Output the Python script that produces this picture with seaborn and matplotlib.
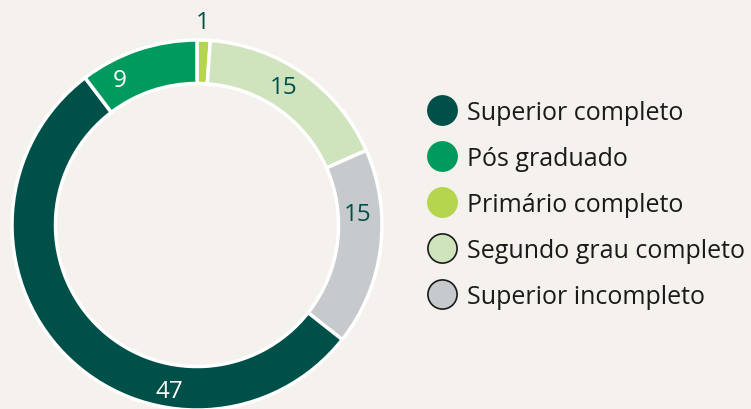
import numpy as np
import matplotlib
matplotlib.use("Agg")
import matplotlib.pyplot as plt
from matplotlib.lines import Line2D
import seaborn as sns

# ================================
# Data
# ================================
categories = ["Primário completo", "Segundo grau completo", "Superior incompleto",
              "Superior completo", "Pós graduado"]
values = [1, 15, 15, 47, 9]
legend_order = ["Superior completo", "Pós graduado", "Primário completo",
                "Segundo grau completo", "Superior incompleto"]

# ================================
# Style
# ================================
bg = "#f5f1ed"
dark = "#00504a"
colors = {
    "Superior completo": "#00504a",
    "Pós graduado": "#009a5f",
    "Primário completo": "#b4d54c",
    "Segundo grau completo": "#cfe4bd",
    "Superior incompleto": "#c6cacd",
}
label_colors = [dark, dark, dark, "white", "white"]
# label angle (deg, clockwise from top) and radius for each wedge
label_angle = [1.7, 32, 86, 189.6, 332]
label_radius = [1.10, 0.88, 0.87, 0.91, 0.89]

sns.set_theme(style="white")
plt.rcParams["font.family"] = ["Open Sans", "DejaVu Sans"]

fig = plt.figure(figsize=(7.51, 4.10), dpi=100, facecolor=bg)
ax = fig.add_axes([(197 - 185) / 751, (184 - 185) / 410, 370 / 751, 370 / 410])
ax.set_facecolor(bg)

ax.pie(values,
       colors=[colors[c] for c in categories],
       startangle=90,
       counterclock=False,
       radius=1.0,
       wedgeprops=dict(width=0.235, edgecolor="white", linewidth=2.5))
ax.set_xlim(-1, 1)
ax.set_ylim(-1, 1)
ax.set_aspect("equal")
ax.axis("off")

for v, a, r, c in zip(values, label_angle, label_radius, label_colors):
    t = np.deg2rad(a)
    ax.text(r * np.sin(t), r * np.cos(t), str(v), ha="center", va="center",
            fontsize=17.5, color=c, clip_on=False)

# ================================
# Legend
# ================================
handles = []
for name in legend_order:
    edge = "#1a1a1a" if name in ("Segundo grau completo", "Superior incompleto") else colors[name]
    handles.append(Line2D([0], [0], marker="o", linestyle="none", markersize=21,
                          markerfacecolor=colors[name], markeredgecolor=edge,
                          markeredgewidth=1.2))

fig.legend(handles, legend_order, loc="upper left", bbox_to_anchor=(426 / 751, 1 - 101 / 410),
           frameon=False, fontsize=18, labelcolor="#1a1a1a", borderpad=0,
           handletextpad=0.34, labelspacing=0.84, borderaxespad=0, handlelength=1.3)

plt.savefig("out.png", dpi=100, facecolor=bg)
plt.close()
